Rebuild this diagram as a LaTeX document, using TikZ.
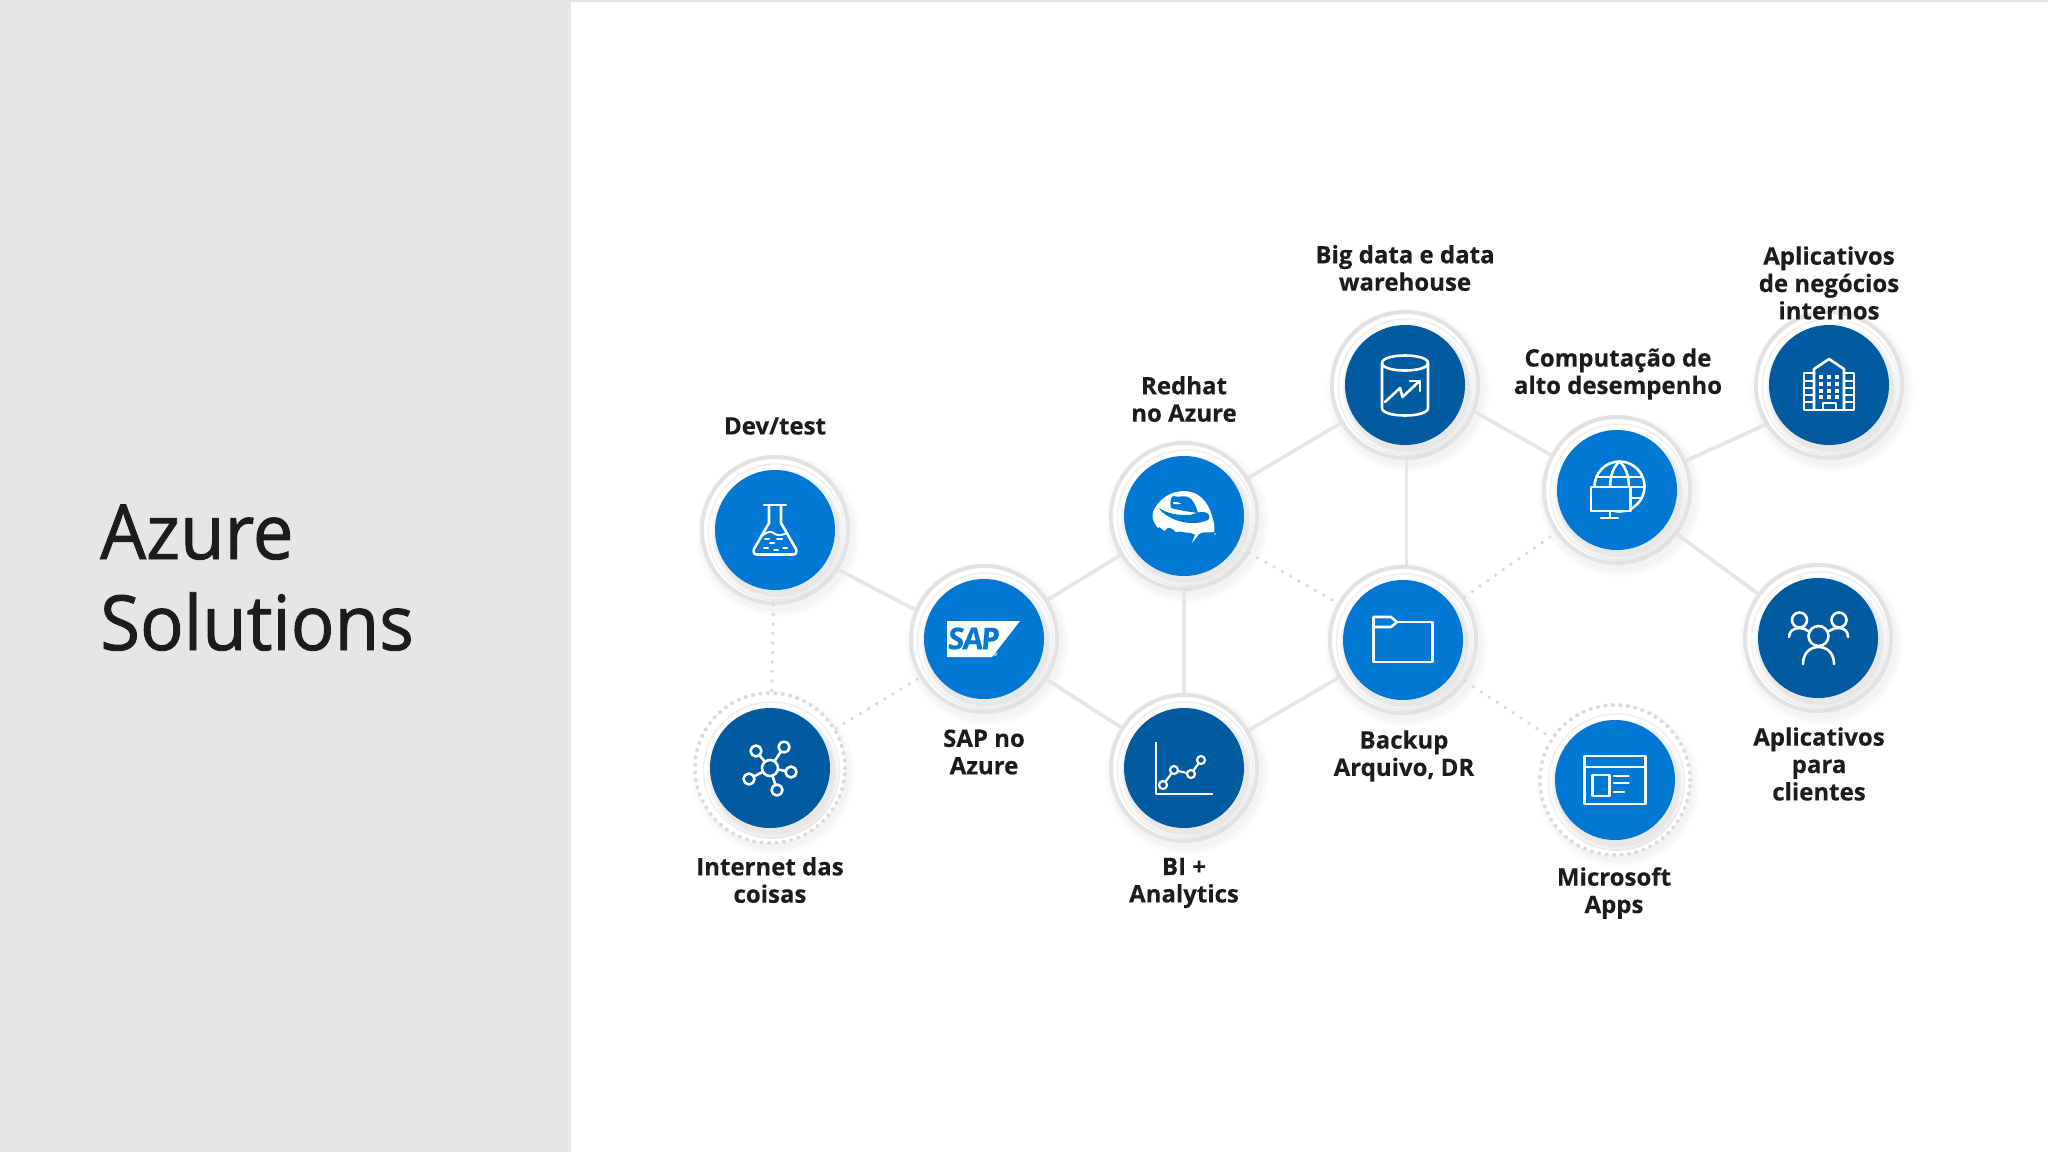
\documentclass[tikz,border=0pt]{standalone}
\usepackage{fontspec}
\setmainfont{Open Sans}
\newfontfamily\ttlfont[FakeBold=1.2]{Open Sans}
\newfontfamily\labfont[FakeBold=0.25]{Open Sans}
\definecolor{lblue}{HTML}{0078D4}
\definecolor{dblue}{HTML}{005BA1}
\definecolor{panel}{HTML}{E6E6E6}
\definecolor{ringc}{HTML}{E2E2E2}
\definecolor{linkc}{HTML}{E6E6E6}
\definecolor{dotc}{HTML}{DADADA}
\definecolor{inkc}{HTML}{1C1C1C}
\tikzset{
  ringnode/.style={circle,inner sep=0pt,minimum size=146pt,draw=ringc,line width=4pt,fill=white},
  dotring/.style={circle,inner sep=0pt,minimum size=150pt,draw=dotc,line width=4pt,line cap=round,dash pattern=on 0pt off 7.5pt,fill=white},
  disc/.style={circle,inner sep=0pt,minimum size=120pt,fill=#1},
  link/.style={draw=linkc,line width=3.8pt},
  dotlink/.style={draw=dotc,line width=3.8pt,line cap=round,dash pattern=on 0pt off 9.5pt},
  lab/.style={align=center,text=inkc,font=\fontsize{24}{27.4}\selectfont\bfseries\labfont,inner sep=0pt},
  ttl/.style={anchor=base west,text=inkc,font=\fontsize{76}{91}\selectfont\ttlfont,inner sep=0pt},
  ico/.style={draw=white,line width=2.6pt,line join=round,line cap=round},
}
\newcommand{\softshadow}[2]{%
  \foreach \rr in {82,80,78,76}{\fill[black,opacity=.012] (#1+3,#2+5) circle[radius=\rr];}
}
\newcommand{\bub}[5]{% id x y colour ringstyle
  \softshadow{#2}{#3}
  \node[#5] (#1) at (#2,#3) {};
  \draw[black!6,line width=1.6pt] (#2+1.5,#3+2) circle[radius=68];
  \foreach \rr in {66,64,62}{\fill[black,opacity=.03] (#2+3,#3+5) circle[radius=\rr];}
  \node[disc=#4] (#1-disc) at (#2,#3) {};
}
\begin{document}
\begin{tikzpicture}[x=1pt,y=-1pt]
\useasboundingbox (0,0) rectangle (2048,1152);
\fill[white] (0,0) rectangle (2048,1152);
\fill[panel] (0,0) rectangle (571,1152);
\fill[panel] (571,0) rectangle (2048,1.5);
\node[ttl] (t1) at (100,559) {\scalebox{.955}[1]{Azure}};
\node[ttl] (t2) at (100,650) {\scalebox{.955}[1]{Solutions}};

% bubbles
\bub{dev}{775}{530}{lblue}{ringnode}
\bub{sap}{984}{639}{lblue}{ringnode}
\bub{red}{1184}{516}{lblue}{ringnode}
\bub{bi}{1184}{768}{dblue}{ringnode}
\bub{iot}{770}{768}{dblue}{dotring}
\bub{big}{1405}{385}{dblue}{ringnode}
\bub{bak}{1403}{640}{lblue}{ringnode}
\bub{hpc}{1617}{490}{lblue}{ringnode}
\bub{ms}{1615}{780}{lblue}{dotring}
\bub{int}{1829}{385}{dblue}{ringnode}
\bub{cli}{1818}{638}{dblue}{ringnode}

% connectors
\draw[link] (dev.-32) -- (sap.157);
\draw[link] (sap) -- (red);
\draw[link] (sap) -- (bi);
\draw[link] (red) -- (bi);
\draw[link] (red) -- (big);
\draw[link] (bi) -- (bak);
\draw[link] ([xshift=1.5pt]big.south) -- ([xshift=1.5pt]big.south |- bak.north);
\draw[link] (big.-21) -- (hpc.152);
\draw[link] (hpc.23) -- (int.212);
\draw[link] (hpc) -- (cli);
\draw[dotlink] (dev) -- (iot);
\draw[dotlink] (iot) -- (sap);
\draw[dotlink] (red) -- (bak);
\draw[dotlink] (bak) -- (hpc);
\draw[dotlink] (bak) -- (ms);

% flask
\begin{scope}[shift={(775,530)},ico]
\draw (-11,-25) -- (11,-25);
\draw (-6,-25) -- (-6,-7) -- (-21,19) .. controls (-22,22) and (-21,24.5) .. (-18,24.5) -- (18,24.5) .. controls (21,24.5) and (22,22) .. (21,19) -- (6,-7) -- (6,-25);
\draw[line width=2pt] (-12,5) .. controls (-7,1) and (-3,1) .. (0,4) .. controls (3,6) and (8,5) .. (12,3);
\draw[line width=2pt] (-10,9)--(-6,9) (2,9)--(7,9) (-5,13)--(-1,13) (-11,18)--(-7,18) (-1,20)--(3,20) (8,18)--(12,18);
\end{scope}

% SAP logo
\begin{scope}[shift={(984,639)}]
\fill[white] (-37,-18) -- (36,-18) -- (8,18) -- (-37,18) -- cycle;
\node[text=lblue,inner sep=0pt,font=\fontsize{30}{30}\selectfont\bfseries\labfont,xslant=.08] (saptxt) at (-10,-0.5) {\scalebox{.98}[1]{S\kern-1.5pt A\kern-2pt P}};
\fill[white,opacity=.55] (11,15) circle[radius=2.2];
\end{scope}

% Red Hat
\begin{scope}[shift={(1184,516)}]
\fill[white] (-31,-4) .. controls (-26,-17) and (-13,-25) .. (0,-25) .. controls (14,-25) and (24,-15) .. (28,0)
  .. controls (30,6) and (31,11) .. (30,16) .. controls (24,17) and (19,15) .. (15,18)
  -- (8,27) -- (11,19) .. controls (4,18) and (-2,14) .. (-8,16) .. controls (-13,11) and (-17,10) .. (-19,15)
  .. controls (-23,14) and (-24,9) .. (-26,12) .. controls (-29,9) and (-33,2) .. (-31,-4) -- cycle;
% crown
\fill[lblue] (-13,-8) .. controls (-14,-13) and (-14,-18) .. (-11,-20) .. controls (-6,-18) and (0,-21) .. (4,-19)
  .. controls (9,-17) and (12,-10) .. (14,-3) .. controls (6,-4) and (-6,-6) .. (-13,-8) -- cycle;
\fill[white] (-11,-14) .. controls (-8,-14) and (-5,-14) .. (-3,-12.5) .. controls (-5,-11) and (-9,-12) .. (-11,-12.5) -- cycle;
% brim
\fill[lblue] (-25,-8) .. controls (-18,-3) and (-8,-1) .. (2,-1) .. controls (8,0) and (14,-5) .. (20,-4)
  .. controls (25,-3) and (26,0) .. (25,3) .. controls (20,7) and (8,8) .. (-1,6)
  .. controls (-11,4) and (-22,-2) .. (-25,-8) -- cycle;
\fill[lblue] (1,17) .. controls (4,16) and (8,17) .. (11,19) .. controls (8,21) and (4,20) .. (1,17) -- cycle;
\fill[white,opacity=.6] (31,18) circle[radius=1.2];
\end{scope}

% chart
\begin{scope}[shift={(1184,768)},ico]
\draw[line cap=butt] (-28,-26) -- (-28,26) -- (29,26);
\draw[line width=2.2pt] (-21,17) -- (-10,2) -- (7,6) -- (17,-8);
\foreach \px/\py in {-21/17,-10/2,7/6,17/-8}{\filldraw[fill=dblue,line width=2.2pt] (\px,\py) circle[radius=4];}
\end{scope}

% IoT
\begin{scope}[shift={(770,768)},ico]
\foreach \px/\py in {-14/-17,14/-21,21/4,-21/11,7/22}{
  \draw (0,0) -- (\px,\py);
  \filldraw[fill=dblue] (\px,\py) circle[radius=5.5];}
\filldraw[fill=dblue] (0,0) circle[radius=8];
\end{scope}

% database
\begin{scope}[shift={(1405,385)},ico]
\draw (-23,-22) .. controls (-23,-32) and (23,-32) .. (23,-22) .. controls (23,-12) and (-23,-12) .. (-23,-22) -- cycle;
\draw (-23,-22) -- (-23,23) .. controls (-23,33) and (23,33) .. (23,23) -- (23,-22);
\draw (-20,17) -- (-5,3) -- (-2.5,12) -- (14.5,-4);
\draw (5,-4) -- (15,-4) -- (15,6);
\end{scope}

% building
\begin{scope}[shift={(1829,385)},ico]
\draw (-15,25) -- (-15,-16) -- (0,-26) -- (15,-16) -- (15,25);
\draw (-15,-12) -- (-25,-12) -- (-25,25) -- (25,25) -- (25,-12) -- (15,-12);
\draw[line width=2pt] (-6,25) -- (-6,18) -- (7,18) -- (7,25);
\foreach \wy in {-8,-1,6,12}{\foreach \wx in {-8,0,8}{\fill[white] (\wx-2.2,\wy-2.2) rectangle (\wx+2.2,\wy+2.2);}}
\draw[line width=2pt] (-25,-4)--(-15,-4) (-25,3)--(-15,3) (-25,10)--(-15,10) (-25,17)--(-15,17)
  (15,-4)--(25,-4) (15,3)--(25,3) (15,10)--(25,10) (15,17)--(25,17);
\end{scope}

% globe + monitor
\begin{scope}[shift={(1617,490)},ico]
\draw (2.5,-3.5) circle[radius=25];
\draw (2.5,-28.5) .. controls (-10,-18) and (-10,10) .. (2.5,21.5);
\draw (2.5,-28.5) .. controls (15,-18) and (15,10) .. (2.5,21.5);
\draw (-19,-13) -- (24,-13) (-22,-3) -- (27,-3) (-19,8) -- (24,8);
\filldraw[fill=lblue] (-26,-3) rectangle (13.5,21);
\draw (-7,21) -- (-7,28) (-16,28) -- (1,28);
\end{scope}

% folder
\begin{scope}[shift={(1403,640)},ico]
\draw (-29.5,-13) -- (-29.5,22) -- (29.5,22) -- (29.5,-18) -- (-7,-18);
\draw (-29.5,-13) -- (-29.5,-23) -- (-12,-23) -- (-6,-18) -- (-12,-13) -- cycle;
\end{scope}

% browser
\begin{scope}[shift={(1615,780)},ico]
\draw (-30.5,-24) rectangle (30.5,24);
\draw (-30.5,-13) -- (30.5,-13);
\draw (-22.5,-5) rectangle (-5.5,16);
\draw (-1,-4) -- (13.5,-4) (-1,3) -- (13.5,3) (-1,12) -- (9,12);
\end{scope}

% people
\begin{scope}[shift={(1818,638)},ico]
\draw (0.5,-2) ellipse[x radius=10,y radius=10];
\draw (-15,26) .. controls (-15,15) and (-8,9) .. (0.5,9) .. controls (9,9) and (16,15) .. (16,26);
\draw (-18.5,-18) circle[radius=7.5];
\draw (21,-18) circle[radius=7.5];
\draw (-29,-1) .. controls (-29,-7) and (-24,-10) .. (-18.5,-10) .. controls (-15,-10) and (-12,-9) .. (-10,-7);
\draw (30,-1) .. controls (30,-7) and (26,-10) .. (21,-10) .. controls (17,-10) and (14,-9) .. (11,-7);
\end{scope}

% labels
\node[lab] (l-dev) at (775,426) {Dev/test};
\node[lab] (l-sap) at (984,752) {SAP no\\Azure};
\node[lab] (l-red) at (1184,399) {Redhat\\no Azure};
\node[lab] (l-bi) at (1184,883) {BI +\\Analytics};
\node[lab] (l-iot) at (770,880) {Internet das\\coisas};
\node[lab] (l-big) at (1405,268) {Big data e data\\warehouse};
\node[lab] (l-int) at (1829,283) {Aplicativos\\de negócios\\internos};
\node[lab] (l-hpc) at (1618,374) {Computação de\\alto desempenho};
\node[lab] (l-bak) at (1404,756) {Backup\\Arquivo, DR};
\node[lab] (l-ms) at (1614,893) {Microsoft\\Apps};
\node[lab] (l-cli) at (1819,764) {Aplicativos\\para\\clientes};
\end{tikzpicture}
\end{document}
